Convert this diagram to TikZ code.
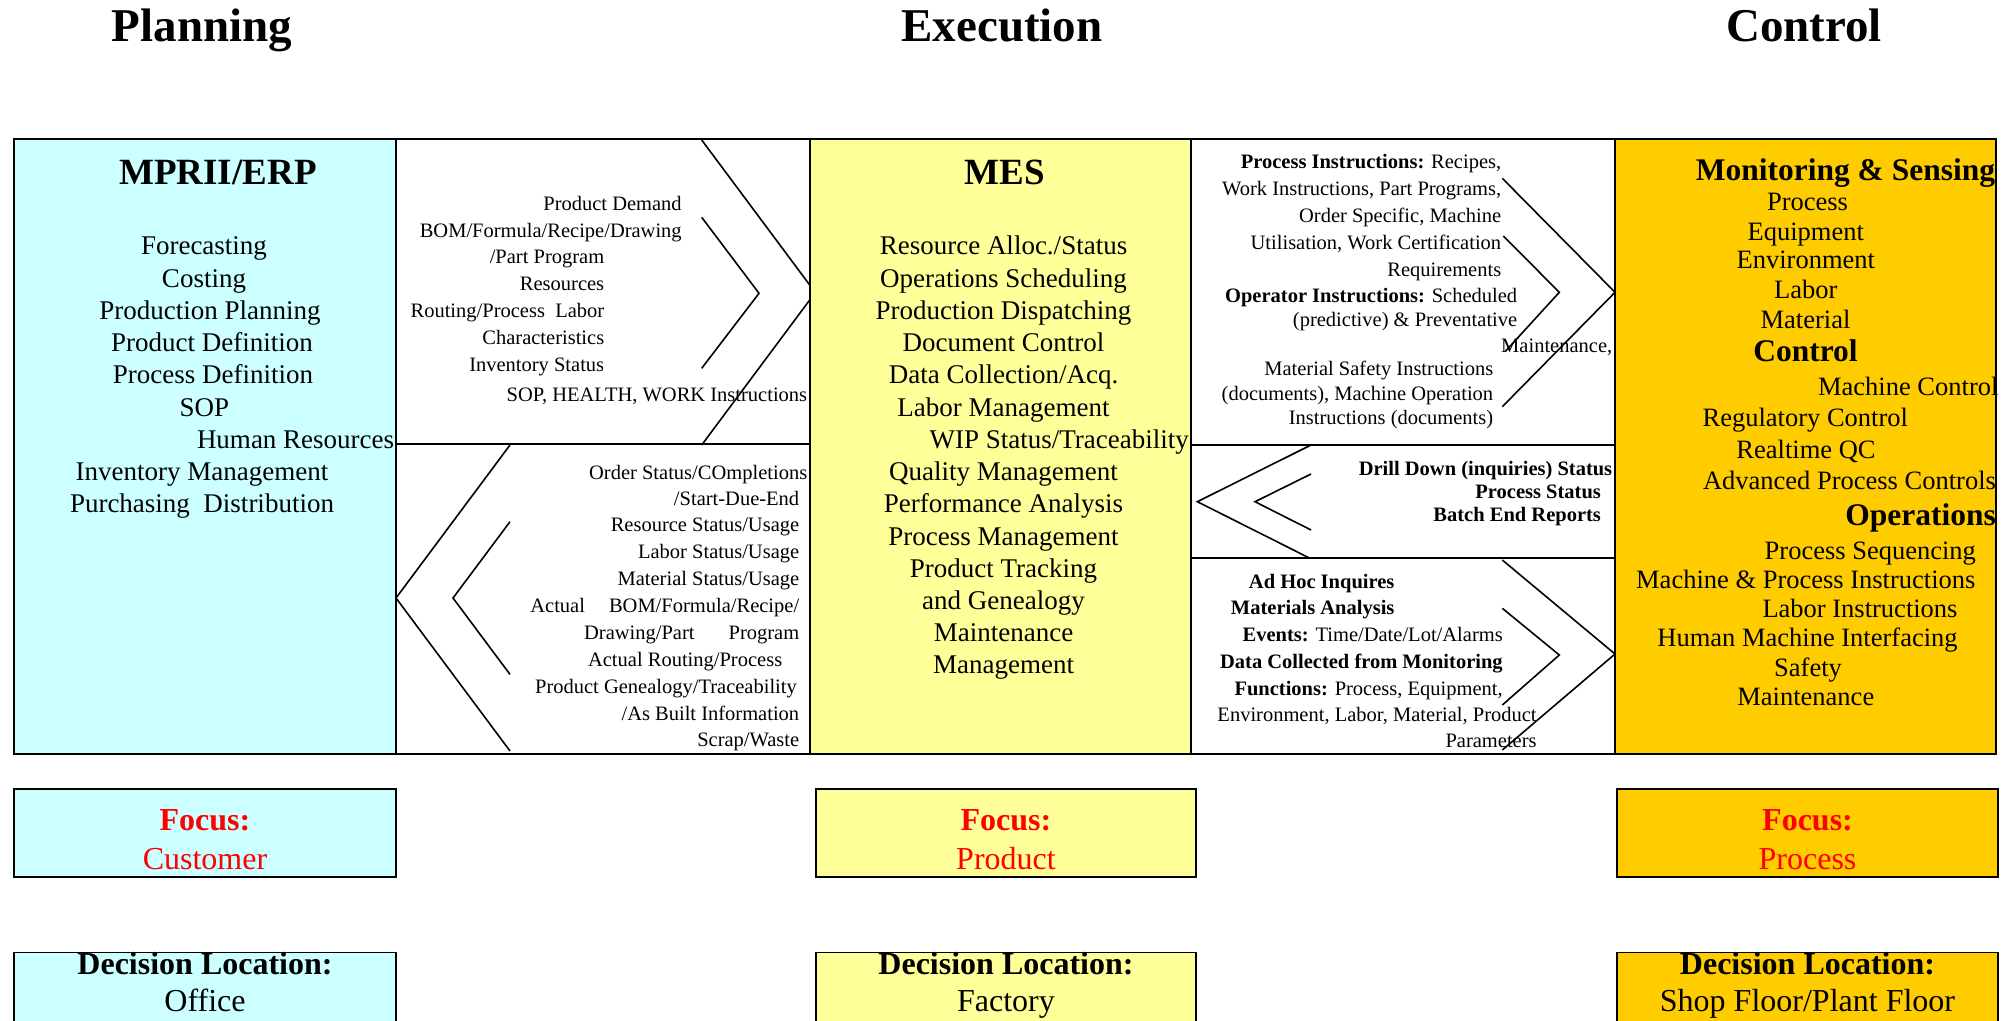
\documentclass[tikz,border=0pt]{standalone}
\usepackage{fontspec}
\setmainfont{Liberation Serif}
\usepackage{xcolor}
\usetikzlibrary{positioning}
\definecolor{erpcyan}{HTML}{CCFFFF}
\definecolor{mesyellow}{HTML}{FFFF99}
\definecolor{ctrlorange}{HTML}{FFCC00}
\newcommand{\fs}[1]{\fontsize{#1}{#1}\selectfont}

\begin{document}
\begin{tikzpicture}[x=1pt,y=-1pt,line width=1.6pt]
	\tikzstyle{every node}=[inner sep=0pt, anchor=base]
	\tikzstyle{title}=[font=\fs{47}\bfseries]
	\tikzstyle{head}=[font=\fs{37}\bfseries]
	\tikzstyle{item}=[font=\fs{27}]
	\tikzstyle{note}=[font=\fs{20.5}, anchor=base east]
	\tikzstyle{ohead}=[font=\fs{31.5}\bfseries]
	\tikzstyle{oitem}=[font=\fs{26.5}]
	\tikzstyle{tag}=[font=\fs{32}]
	\useasboundingbox (0,0) rectangle (2009,1020);

	% titles
	\node[title] (plan) at (202,41.7) {Planning};
	\node[title] (exe)  at (1002,41.7) {Execution};
	\node[title] (ctrl) at (1804,41.7) {Control};

	% chevrons, before the columns so these cover the tips
	\draw (701.7,140) -- (815.3,292.5) -- (701.7,445);
	\draw (701.7,217.3) -- (759,293.3) -- (701.7,368.3);
	\draw (510,445) -- (396,598) -- (510,751);
	\draw (510,521.7) -- (453,598) -- (510,674.4);
	\draw (1502.3,178.3) -- (1615,292.3) -- (1502.3,406.7);
	\draw (1503.3,236) -- (1559.3,292.3) -- (1505,351.7);
	\draw (1311,445) -- (1197.3,501.7) -- (1310,558.3);
	\draw (1311,474) -- (1255,501.7) -- (1311,530);
	\draw (1502.3,560) -- (1615,654) -- (1502.3,750);
	\draw (1502.3,608.3) -- (1559.3,655) -- (1502.3,705);

	% columns
	\filldraw[fill=erpcyan] (14,139) rectangle (396,754);
	\filldraw[fill=mesyellow] (810,139) rectangle (1191,754);
	\filldraw[fill=ctrlorange] (1615,139) rectangle (1996,754);
	\draw (14,139) rectangle (1996,754);
	\draw (396,444) -- (810,444);
	\draw (1191,445) -- (1615,445);
	\draw (1191,558) -- (1615,558);

	% MPRII/ERP
	\node[head] (erp) at (218,184) {MPRII/ERP};
	\foreach \x/\y/\t [count=\i] in {204/254.5/Forecasting, 204/287.9/Costing,
		210/319.6/Production Planning, 212/351.8/Product Definition,
		213/383.9/Process Definition, 204.5/416.5/SOP,
		202/480.3/Inventory Management, 202/512.5/Purchasing\ \ Distribution}
		\node[item] (erp\i) at (\x,\y) {\t};
	\node[item, anchor=base east] (hr) at (395,448.6) {Human Resources};

	% planning to execution
	\foreach \x/\y/\t [count=\i] in {682.5/210/Product Demand,
		682.5/237.7/{BOM/Formula/Recipe/Drawing}, 605/263.8/{/Part Program},
		605/290.7/Resources, 605/317.6/{Routing/Process\ \ Labor},
		605/344/Characteristics, 605/371/Inventory Status,
		808/401/{SOP, HEALTH, WORK Instructions}}
		\node[note] (down\i) at (\x,\y) {\t};

	% execution to planning
	\foreach \x/\y/\t [count=\i] in {808/479.5/{Order Status/COmpletions},
		800/505.7/{/Start-Due-End}, 800/531.8/{Resource Status/Usage},
		800/558.7/{Labor Status/Usage}, 800/585.2/{Material Status/Usage},
		800/612/{Actual\hspace{24pt}BOM/Formula/Recipe/},
		800/639.4/{Drawing/Part\hspace{34pt}Program},
		783/666.4/{Actual Routing/Process},
		797.6/693/{Product Genealogy/Traceability},
		800/720.6/{/As Built Information}, 800/746.7/{Scrap/Waste}}
		\node[note] (up\i) at (\x,\y) {\t};

	% MES
	\node[head] (mes) at (1005,184) {MES};
	\foreach \y/\t [count=\i] in {254.5/{Resource Alloc./Status},
		287.9/Operations Scheduling, 319.6/Production Dispatching,
		351.8/Document Control, 383.9/{Data Collection/Acq.},
		416.5/Labor Management, 480.3/Quality Management,
		512.5/Performance Analysis, 545/Process Management,
		577.2/Product Tracking, 609.3/and Genealogy,
		641.4/Maintenance, 673.6/Management}
		\node[item] (mes\i) at (1003.5,\y) {\t};
	\node[item, anchor=base east] (wip) at (1189.6,448.6) {WIP Status/Traceability};

	% execution to control
	\foreach \x/\y/\t [count=\i] in {
		1502/168.2/{\textbf{Process Instructions:} Recipes,},
		1502/195.5/{Work Instructions, Part Programs,},
		1502/222.4/{Order Specific, Machine},
		1502/249.3/{Utilisation, Work Certification},
		1502/276.6/Requirements,
		1518/302/{\textbf{Operator Instructions:} Scheduled},
		1518/326/(predictive) \& Preventative,
		1613/352/{Maintenance,},
		1494/375.9/Material Safety Instructions,
		1494/400/{(documents), Machine Operation},
		1494/424.5/Instructions (documents)}
		\node[note] (instr\i) at (\x,\y) {\t};

	% control to execution
	\foreach \x/\y/\t [count=\i] in {1613/475/Drill Down (inquiries) Status,
		1601.7/498.3/Process Status, 1601.7/521.7/Batch End Reports}
		\node[note, font=\fs{20.5}\bfseries] (drill\i) at (\x,\y) {\t};

	\foreach \x/\y/\t [count=\i] in {
		1395.2/588/\textbf{Ad Hoc Inquires},
		1395.2/614/\textbf{Materials Analysis},
		1503.5/641.4/{\textbf{Events:} Time/Date/Lot/Alarms},
		1503.5/668.4/\textbf{Data Collected from Monitoring},
		1503.5/695.7/{\textbf{Functions:} Process, Equipment,},
		1537.4/721.8/{Environment, Labor, Material, Product},
		1537.4/747.5/Parameters}
		\node[note] (data\i) at (\x,\y) {\t};

	% control column
	\node[ohead, anchor=base west] (mon) at (1695,180.2) {Monitoring \& Sensing};
	\foreach \x/\y/\t [count=\i] in {1807.5/210.4/Process,
		1805.8/240.5/Equipment, 1805.8/268.6/Environment,
		1805.8/298.7/Labor, 1805.5/328/Material,
		1805.3/426/Regulatory Control, 1806/458.6/Realtime QC,
		1870.3/559/Process Sequencing,
		1805.8/588/Machine \& Process Instructions,
		1860/617.3/Labor Instructions,
		1807.5/646.3/Human Machine Interfacing,
		1808/676.4/Safety, 1805.8/705.3/Maintenance}
		\node[oitem] (ctl\i) at (\x,\y) {\t};
	\node[ohead] (con) at (1805.5,361) {Control};
	\node[oitem, anchor=base west] (mach) at (1817.3,395) {Machine Control};
	\node[oitem, anchor=base east] (apc) at (1996.7,489.6) {Advanced Process Controls};
	\node[ohead, anchor=base east] (ops) at (1996.7,525.7) {Operations};

	% focus and decision boxes
	\filldraw[fill=erpcyan] (14,789) rectangle (396,876.7);
	\filldraw[fill=mesyellow] (816,789) rectangle (1196,876.7);
	\filldraw[fill=ctrlorange] (1617,789) rectangle (1998,876.7);
	\filldraw[fill=erpcyan] (14,952.3) rectangle (396,1040);
	\filldraw[fill=mesyellow] (816,952.3) rectangle (1196,1040);
	\filldraw[fill=ctrlorange] (1617,952.3) rectangle (1998,1040);

	\foreach \x/\f/\d [count=\i] in {205/Customer/Office, 1006/Product/Factory,
		1807.5/Process/{Shop Floor/Plant Floor}} {
		\node[tag, red, font=\fs{32}\bfseries] (focus\i) at (\x,830) {Focus:};
		\node[tag, red] (what\i) at (\x,869) {\f};
		\node[tag, font=\fs{32}\bfseries] (dec\i) at (\x,974) {Decision Location:};
		\node[tag] (where\i) at (\x,1011.7) {\d};
	}
\end{tikzpicture}
\end{document}
